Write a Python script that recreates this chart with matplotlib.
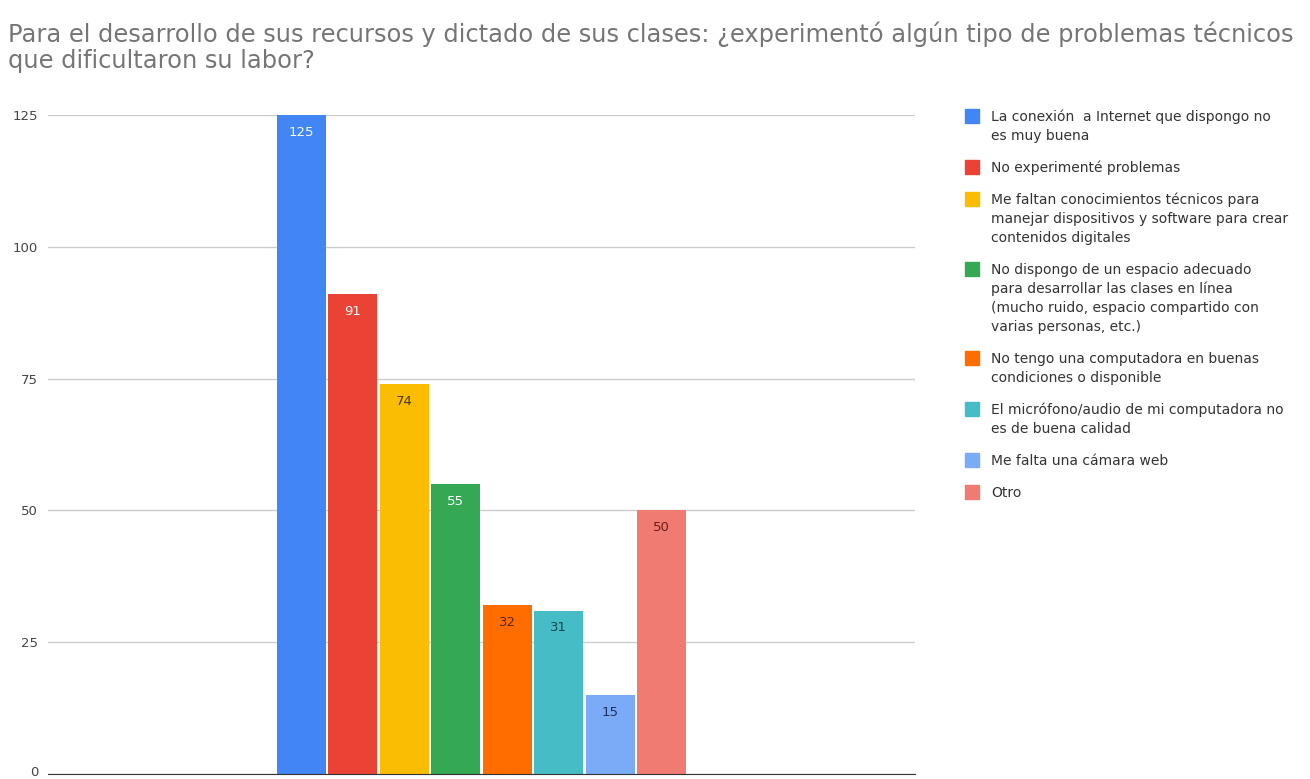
import matplotlib
matplotlib.use("Agg")
import matplotlib.pyplot as plt
from matplotlib.patches import Rectangle
from matplotlib.transforms import ScaledTranslation
import numpy as np

plt.rcParams["font.family"] = ["DejaVu Sans"]

title_lines = [
    "Para el desarrollo de sus recursos y dictado de sus clases: ¿experimentó algún tipo de problemas técnicos",
    "que dificultaron su labor?",
]

categories = [
    "La conexión  a Internet que dispongo no\nes muy buena",
    "No experimenté problemas",
    "Me faltan conocimientos técnicos para\nmanejar dispositivos y software para crear\ncontenidos digitales",
    "No dispongo de un espacio adecuado\npara desarrollar las clases en línea\n(mucho ruido, espacio compartido con\nvarias personas, etc.)",
    "No tengo una computadora en buenas\ncondiciones o disponible",
    "El micrófono/audio de mi computadora no\nes de buena calidad",
    "Me falta una cámara web",
    "Otro",
]
values = [125, 91, 74, 55, 32, 31, 15, 50]
colors = ["#4285F4", "#EA4335", "#FBBC04", "#34A853", "#FF6D01", "#46BDC6", "#7BAAF7", "#F07B72"]
label_colors = ["white", "white", "#4a3800", "white", "#5c2700", "#16474b", "#1b3163", "#6a1c18"]
yticks = [0, 25, 50, 75, 100, 125]

W, H = 1310, 779
fig = plt.figure(figsize=(W / 100, H / 100), dpi=100)
ax = fig.add_axes([48 / W, 5 / H, 867 / W, 659 / H])

x = np.arange(len(values))
bars = ax.bar(x, values, width=0.96, color=colors, zorder=3)
for xi, v, lc in zip(x, values, label_colors):
    ax.text(xi, v - 3.3, str(v), ha="center", va="center", fontsize=9.5, color=lc, zorder=4)

half = 8 * 867 / 412 / 2
ax.set_xlim(3.5 - half, 3.5 + half)
ax.set_ylim(0, 125)
ax.set_yticks(yticks)
ax.set_xticks([])
ax.tick_params(axis="y", length=0, labelsize=9.5, labelcolor="#444444", pad=7)
ax.grid(axis="y", color="#cccccc", linewidth=1, zorder=0)
for side in ["top", "right", "left"]:
    ax.spines[side].set_visible(False)
ax.spines["bottom"].set_color("#333333")
ax.spines["bottom"].set_zorder(5)

# nudge the "0" label up so it stays inside the canvas
zero_label = ax.get_yticklabels()[0]
zero_label.set_transform(zero_label.get_transform() + ScaledTranslation(0, 3 / 100, fig.dpi_scale_trans))

# legend drawn by hand so the swatch sits on the first line of each entry
line_pitch, entry_gap = 19, 13
y = 116
for label, color in zip(categories, colors):
    fig.patches.append(Rectangle((965 / W, 1 - (y + 7) / H), 14 / W, 14 / H,
                                 transform=fig.transFigure, color=color, figure=fig))
    lines = label.split("\n")
    for i, line in enumerate(lines):
        fig.text(991 / W, 1 - (y + i * line_pitch + 5) / H, line, ha="left", va="baseline",
                 fontsize=10, color="#333333")
    y += len(lines) * line_pitch + entry_gap

for i, line in enumerate(title_lines):
    fig.text(8 / W, 1 - (42 + i * 26) / H, line, ha="left", va="baseline", fontsize=17.4,
             color="#757575")

fig.savefig("out.png", dpi=100)
